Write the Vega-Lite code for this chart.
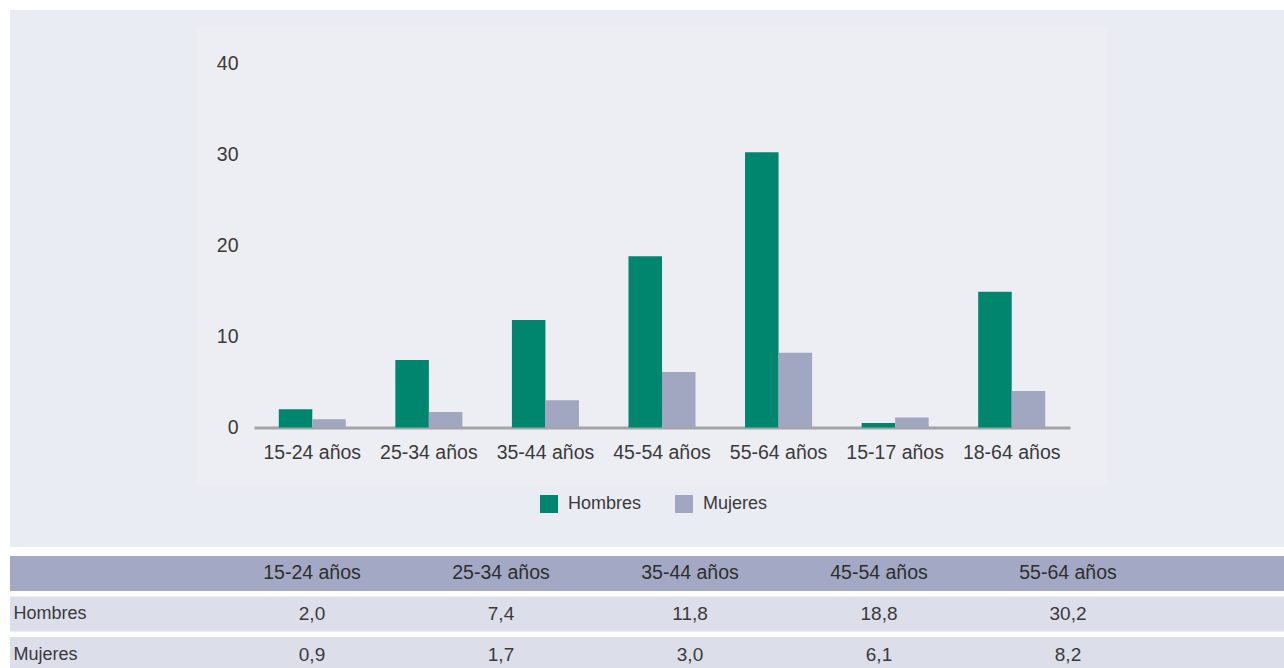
{
  "$schema": "https://vega.github.io/schema/vega-lite/v6.json",
  "background": "#E9ECF3",
  "padding": 0,
  "config": {
    "view": {"stroke": null},
    "concat": {"spacing": 0},
    "font": "Liberation Sans",
    "locale": {"number": {"decimal": ",", "thousands": ".", "grouping": [3], "currency": ["", " €"]}}
  },
  "datasets": {
    "barras": [
      {"edad": "15-24 años", "sexo": "Hombres", "valor": 2.0},
      {"edad": "15-24 años", "sexo": "Mujeres", "valor": 0.9},
      {"edad": "25-34 años", "sexo": "Hombres", "valor": 7.4},
      {"edad": "25-34 años", "sexo": "Mujeres", "valor": 1.7},
      {"edad": "35-44 años", "sexo": "Hombres", "valor": 11.8},
      {"edad": "35-44 años", "sexo": "Mujeres", "valor": 3.0},
      {"edad": "45-54 años", "sexo": "Hombres", "valor": 18.8},
      {"edad": "45-54 años", "sexo": "Mujeres", "valor": 6.1},
      {"edad": "55-64 años", "sexo": "Hombres", "valor": 30.2},
      {"edad": "55-64 años", "sexo": "Mujeres", "valor": 8.2},
      {"edad": "15-17 años", "sexo": "Hombres", "valor": 0.5},
      {"edad": "15-17 años", "sexo": "Mujeres", "valor": 1.1},
      {"edad": "18-64 años", "sexo": "Hombres", "valor": 14.9},
      {"edad": "18-64 años", "sexo": "Mujeres", "valor": 4.0}
    ],
    "filas": [
      {"fila": "cab"},
      {"fila": "Hombres"},
      {"fila": "Mujeres"}
    ],
    "columnas": [
      {"edad": "15-24 años"},
      {"edad": "25-34 años"},
      {"edad": "35-44 años"},
      {"edad": "45-54 años"},
      {"edad": "55-64 años"}
    ],
    "vacio": [{"a": 0}]
  },
  "spacing": 0,
  "resolve": {
    "scale": {"x": "independent", "y": "independent", "color": "independent", "xOffset": "independent"},
    "legend": {"color": "independent"}
  },
  "vconcat": [
    {
      "width": 1284,
      "height": 10,
      "view": {"fill": "#FFFFFF", "stroke": null},
      "data": {"name": "vacio"},
      "mark": {"type": "point", "opacity": 0},
      "encoding": {}
    },
    {
      "spacing": 0,
      "resolve": {
        "scale": {"x": "independent", "y": "independent", "color": "independent", "xOffset": "independent"},
        "legend": {"color": "independent"}
      },
      "hconcat": [
        {
          "width": 10,
          "height": 537,
          "view": {"fill": "#FFFFFF", "stroke": null},
          "data": {"name": "vacio"},
          "mark": {"type": "point", "opacity": 0},
          "encoding": {}
        },
        {
          "width": 187,
          "height": 10,
          "data": {"name": "vacio"},
          "mark": {"type": "point", "opacity": 0},
          "encoding": {}
        },
        {
          "spacing": 0,
          "resolve": {
            "scale": {"x": "independent", "y": "independent", "color": "independent", "xOffset": "independent"},
            "legend": {"color": "independent"}
          },
          "vconcat": [
            {
              "width": 10,
              "height": 17,
              "data": {"name": "vacio"},
              "mark": {"type": "point", "opacity": 0},
              "encoding": {}
            },
            {
              "width": 910,
              "height": 458,
              "view": {"fill": "#EDEEF4", "stroke": null},
              "data": {"name": "barras"},
              "mark": {"type": "bar"},
              "encoding": {
                "x": {
                  "field": "edad",
                  "type": "nominal",
                  "sort": null,
                  "scale": {"range": [57, 873], "paddingInner": 0.425, "paddingOuter": 0.2125},
                  "axis": {
                    "title": null,
                    "orient": "bottom",
                    "offset": -57.5,
                    "domainColor": "#A4A4A4",
                    "domainWidth": 3,
                    "ticks": false,
                    "labelAngle": 0,
                    "labelPadding": 16,
                    "labelFontSize": 19.5,
                    "labelColor": "#3A3A3A"
                  }
                },
                "xOffset": {
                  "field": "sexo",
                  "type": "nominal",
                  "sort": ["Hombres", "Mujeres"],
                  "scale": {"paddingInner": 0, "paddingOuter": 0}
                },
                "y": {
                  "field": "valor",
                  "type": "quantitative",
                  "scale": {"domain": [0, 40], "range": [400.5, 36], "nice": false},
                  "axis": {
                    "title": null,
                    "values": [0, 10, 20, 30, 40],
                    "grid": false,
                    "domain": false,
                    "ticks": false,
                    "labelAlign": "right",
                    "labelPadding": -41,
                    "labelFontSize": 19.5,
                    "labelColor": "#3A3A3A"
                  }
                },
                "color": {
                  "field": "sexo",
                  "type": "nominal",
                  "scale": {"domain": ["Hombres", "Mujeres"], "range": ["#00856F", "#A1A6C1"]},
                  "legend": {
                    "title": null,
                    "orient": "none",
                    "legendX": 343,
                    "legendY": 468,
                    "direction": "horizontal",
                    "symbolType": "square",
                    "symbolSize": 324,
                    "symbolStrokeWidth": 0,
                    "labelFontSize": 18,
                    "labelColor": "#3A3A3A",
                    "labelOffset": 10,
                    "columnPadding": 33,
                    "encode": {
                      "symbols": {
                        "update": {
                          "fill": {"signal": "datum.value === 'Hombres' ? '#0B6B5A' : '#8F95B9'"}
                        }
                      }
                    }
                  }
                }
              }
            }
          ]
        }
      ]
    },
    {
      "spacing": 0,
      "resolve": {
        "scale": {"x": "independent", "y": "independent", "color": "independent", "xOffset": "independent"}
      },
      "hconcat": [
        {
          "width": 10,
          "height": 121,
          "view": {"fill": "#FFFFFF", "stroke": null},
          "data": {"name": "vacio"},
          "mark": {"type": "point", "opacity": 0},
          "encoding": {}
        },
        {
          "width": 1274,
          "height": 121,
          "view": {"fill": "#FFFFFF", "stroke": null},
          "layer": [
            {
              "data": {"name": "filas"},
              "mark": {"type": "rect", "clip": true},
              "encoding": {
                "y": {
                  "field": "fila",
                  "type": "nominal",
                  "sort": ["cab", "Hombres", "Mujeres"],
                  "scale": {"domain": ["cab", "Hombres", "Mujeres"], "range": [9, 125], "paddingInner": 0.136, "paddingOuter": 0},
                  "axis": {
                    "title": null,
                    "domain": false,
                    "ticks": false,
                    "grid": false,
                    "labelAlign": "left",
                    "labelPadding": -3,
                    "labelFontSize": 18,
                    "labelColor": "#3A3A3A",
                    "labelExpr": "datum.value === 'cab' ? '' : datum.value"
                  }
                },
                "fill": {
                  "condition": {"test": "datum.fila === 'cab'", "value": "#A3A9C4"},
                  "value": "#DCDEEA"
                }
              }
            },
            {
              "data": {"name": "columnas"},
              "mark": {"type": "text", "fontSize": 19.5, "color": "#2E2E2E", "baseline": "middle"},
              "encoding": {
                "x": {
                  "field": "edad",
                  "type": "nominal",
                  "sort": null,
                  "scale": {"range": [207.5, 1152.5], "paddingInner": 0, "paddingOuter": 0},
                  "axis": null
                },
                "y": {"datum": "cab", "type": "nominal"},
                "text": {"field": "edad"}
              }
            },
            {
              "data": {"name": "barras"},
              "transform": [{"filter": "datum.edad !== '15-17 años' && datum.edad !== '18-64 años'"}],
              "mark": {"type": "text", "fontSize": 19, "color": "#3A3A3A", "baseline": "middle"},
              "encoding": {
                "x": {"field": "edad", "type": "nominal", "sort": null},
                "y": {"field": "sexo", "type": "nominal"},
                "text": {"field": "valor", "type": "quantitative", "format": ".1f"}
              }
            }
          ]
        }
      ]
    }
  ]
}
